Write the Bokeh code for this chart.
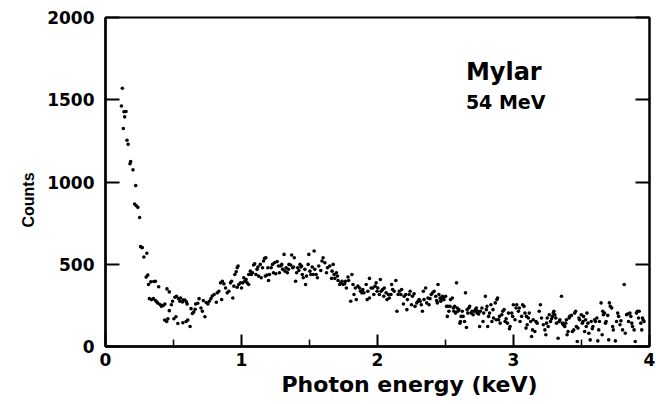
from bokeh.plotting import figure
from bokeh.models import LinearAxis, Label, FixedTicker, Range1d, Title
from bokeh.embed import file_html
from bokeh.resources import INLINE

# ---- data ----
energy_keV = [
    0.124, 0.117, 0.136, 0.151, 0.141, 0.131, 0.158, 0.166, 0.180, 0.185, 0.202, 0.222,
    0.214, 0.226, 0.238, 0.251,
    0.258, 0.270, 0.282, 0.304, 0.311, 0.299, 0.316, 0.333, 0.355, 0.367, 0.391, 0.452,
    0.469, 0.323, 0.338, 0.352, 0.367, 0.377, 0.386, 0.403, 0.411, 0.425, 0.437, 0.469,
    0.484, 0.493, 0.510, 0.522, 0.537, 0.547, 0.552, 0.566, 0.571, 0.583, 0.595, 0.600,
    0.435, 0.450, 0.459, 0.503, 0.518, 0.532, 0.569, 0.593, 0.605, 0.622, 0.629, 0.639,
    0.649, 0.659, 0.663, 0.678, 0.688, 0.702, 0.712, 0.719, 0.731, 0.741, 0.753, 0.763,
    0.775, 0.785, 0.799,
    0.815, 0.822, 0.834, 0.854, 0.846, 0.859, 0.871, 0.883, 0.895, 0.907, 0.919, 0.927,
    0.936, 0.944, 0.951, 0.961, 0.968, 0.975, 0.968, 0.980, 0.992, 1.000, 1.009, 1.017,
    1.024, 1.034, 1.041, 1.053, 1.053, 1.065, 1.072, 1.082, 1.089, 1.097, 1.106, 1.114,
    1.121, 1.126, 1.138, 1.145, 1.155, 1.162, 1.170, 1.179, 1.175, 1.187, 1.194, 1.199,
    1.206, 1.218, 1.228, 1.235, 1.243, 1.252, 1.262, 1.272, 1.279, 1.289, 1.296, 1.303,
    1.313, 1.320, 1.328, 1.337, 1.345, 1.349, 1.362, 1.369, 1.376, 1.383, 1.388, 1.398,
    1.405, 1.413, 1.422, 1.430, 1.437, 1.442, 1.447, 1.454, 1.466, 1.471, 1.478, 1.490,
    1.495, 1.503, 1.510, 1.520, 1.527, 1.534, 1.539, 1.549, 1.558, 1.568, 1.583, 1.592,
    1.600,
    1.613, 1.625, 1.632, 1.649, 1.662, 1.666, 1.674, 1.681, 1.686, 1.698, 1.705, 1.710,
    1.722, 1.730, 1.739, 1.747, 1.759, 1.764, 1.771, 1.783, 1.788, 1.803, 1.812, 1.820,
    1.827, 1.837, 1.844, 1.856, 1.868, 1.875, 1.885, 1.892, 1.900, 1.917, 1.924, 1.929,
    1.941, 1.941, 1.953, 1.965, 1.973, 1.982, 1.990, 1.997, 2.002, 2.014, 2.021, 2.026,
    2.038, 2.046, 2.050, 2.063, 2.070, 2.080, 2.087, 2.099, 2.104, 2.111, 2.123, 2.135,
    2.143, 2.152, 2.160, 2.172, 2.177, 2.191, 2.196, 2.208, 2.216, 2.220, 2.233, 2.240,
    2.250, 2.257, 2.269, 2.276, 2.289, 2.298, 2.306, 2.313, 2.322, 2.330, 2.337, 2.342,
    2.354, 2.362, 2.371, 2.379, 2.386, 2.395, 2.405,
    2.416, 2.428, 2.435, 2.440, 2.445, 2.452, 2.460, 2.465, 2.469, 2.477, 2.484, 2.489,
    2.501, 2.508, 2.513, 2.518, 2.525, 2.533, 2.537, 2.550, 2.557, 2.562, 2.567, 2.574,
    2.581, 2.586, 2.591, 2.598, 2.606, 2.610, 2.615, 2.623, 2.630, 2.640, 2.647, 2.654,
    2.659, 2.664, 2.671, 2.678, 2.688, 2.695, 2.703, 2.712, 2.720, 2.727, 2.732, 2.737,
    2.744, 2.751, 2.756, 2.768, 2.776, 2.781, 2.793, 2.800, 2.805, 2.810, 2.817, 2.824,
    2.834, 2.841, 2.849, 2.853, 2.866, 2.873, 2.878, 2.883, 2.890, 2.897, 2.902, 2.914,
    2.921, 2.931, 2.938, 2.946, 2.955, 2.963, 2.970, 2.975, 2.987, 2.994, 2.999, 3.011,
    3.019, 3.024, 3.036, 3.043, 3.048, 3.060, 3.067, 3.077, 3.084, 3.092, 3.096, 3.101,
    3.109, 3.116, 3.126, 3.133, 3.140, 3.145, 3.157, 3.165, 3.174, 3.189, 3.198, 3.206,
    3.219, 3.231, 3.238, 3.243, 3.248, 3.255, 3.263, 3.272, 3.280, 3.287, 3.292, 3.297,
    3.304, 3.311, 3.316, 3.328, 3.336, 3.341, 3.353, 3.360, 3.365, 3.377, 3.384, 3.389,
    3.394, 3.401, 3.409, 3.413, 3.426, 3.433, 3.443, 3.450, 3.457, 3.462, 3.469, 3.474,
    3.481, 3.486, 3.498, 3.506, 3.511, 3.515, 3.523, 3.530, 3.535, 3.540, 3.547, 3.554,
    3.564, 3.571, 3.579, 3.584, 3.596, 3.603, 3.613, 3.620, 3.627, 3.632, 3.644, 3.652,
    3.656, 3.661, 3.669, 3.676, 3.681, 3.693, 3.700, 3.705, 3.712, 3.722, 3.729, 3.734,
    3.749, 3.758, 3.766, 3.773, 3.783, 3.790, 3.802, 3.814, 3.822, 3.831, 3.839, 3.846,
    3.856, 3.863, 3.870, 3.875, 3.887, 3.895, 3.904, 3.911, 3.919, 3.924, 3.936, 3.943,
    3.948, 3.953, 3.960,
]
counts = [
    1570, 1462, 1427, 1429, 1396, 1325, 1254, 1229, 1111, 1125, 1074, 978,
    866, 856, 846, 784,
    607, 601, 544, 567, 434, 422, 377, 393, 395, 397, 363, 350,
    332, 291, 285, 291, 279, 271, 263, 254, 244, 250, 258, 218,
    254, 275, 299, 305, 291, 275, 295, 271, 283, 283, 271, 258,
    161, 152, 169, 169, 181, 140, 144, 152, 161, 122, 230, 201,
    210, 226, 258, 263, 291, 234, 214, 279, 181, 267, 258, 275,
    291, 307, 316,
    269, 326, 336, 285, 387, 397, 381, 356, 326, 336, 387, 397,
    295, 367, 438, 454, 479, 489, 360, 377, 387, 356, 387, 418,
    397, 407, 387, 377, 438, 458, 438, 448, 495, 503, 438, 469,
    483, 428, 499, 418, 479, 520, 536, 540, 428, 434, 479, 401,
    438, 479, 499, 448, 509, 442, 516, 489, 448, 489, 499, 469,
    560, 458, 479, 448, 469, 499, 495, 556, 479, 483, 540, 397,
    448, 479, 462, 499, 483, 489, 438, 418, 469, 377, 428, 499,
    560, 458, 438, 483, 438, 581, 469, 438, 418, 489, 462, 520,
    540,
    509, 448, 479, 489, 414, 458, 499, 438, 414, 448, 428, 401,
    377, 387, 397, 377, 381, 397, 356, 422, 401, 275, 438, 377,
    316, 356, 285, 367, 356, 336, 326, 346, 326, 377, 285, 336,
    414, 295, 356, 356, 316, 367, 387, 336, 356, 316, 407, 336,
    346, 305, 356, 326, 285, 316, 295, 316, 377, 346, 336, 401,
    214, 316, 336, 316, 346, 258, 305, 316, 224, 285, 316, 336,
    254, 305, 320, 244, 265, 275, 285, 275, 254, 214, 336, 285,
    356, 265, 295, 254, 291, 316, 326,
    336, 305, 279, 265, 377, 316, 295, 275, 285, 305, 295, 285,
    305, 244, 183, 244, 214, 244, 285, 295, 234, 214, 244, 203,
    387, 234, 214, 224, 142, 152, 183, 214, 183, 152, 326, 116,
    224, 203, 234, 244, 203, 214, 193, 214, 224, 234, 203, 214,
    197, 122, 214, 234, 152, 203, 305, 224, 244, 122, 183, 203,
    254, 152, 224, 173, 265, 163, 285, 295, 163, 183, 142, 193,
    214, 224, 152, 169, 142, 203, 108, 122, 203, 183, 254, 163,
    234, 254, 214, 234, 152, 183, 254, 244, 203, 112, 183, 132,
    173, 203, 152, 61, 101, 163, 91, 152, 142, 214, 254, 173,
    132, 101, 71, 142, 173, 122, 193, 152, 169, 183, 203, 214,
    193, 173, 142, 50, 152, 163, 305, 142, 132, 122, 142, 163,
    71, 91, 173, 183, 189, 91, 101, 203, 214, 122, 30, 112,
    173, 163, 193, 142, 152, 183, 91, 163, 122, 203, 142, 81,
    40, 152, 108, 122, 163, 152, 173, 34, 101, 152, 265, 71,
    214, 193, 203, 142, 152, 189, 40, 265, 244, 234, 122, 101,
    34, 152, 203, 183, 132, 156, 101, 377, 81, 193, 197, 152,
    203, 183, 142, 122, 101, 30, 203, 214, 173, 214, 142, 101,
    173, 163, 152,
]

x_ticks = [0, 1, 2, 3, 4]
x_minor_ticks = [0.5, 1.5, 2.5, 3.5]
y_ticks = [0, 500, 1000, 1500, 2000]
title_lines = ["Mylar", "54 MeV"]
x_title = "Photon energy (keV)"
y_title = "Counts"

FONT = "DejaVu Sans"

p = figure(width=656, height=404, output_backend="svg", toolbar_location=None,
           x_range=Range1d(0, 4), y_range=Range1d(0, 2000),
           min_border_left=105, min_border_right=7, min_border_top=17,
           min_border_bottom=58, background_fill_color="white",
           border_fill_color="white")
p.grid.visible = False
p.outline_line_color = "black"
p.outline_line_width = 2

p.scatter(energy_keV, counts, size=3.6, color="black", line_color=None)

# bottom axis
xa = p.xaxis[0]
xa.ticker = FixedTicker(ticks=x_ticks, minor_ticks=x_minor_ticks)
xa.major_tick_in = 12
xa.major_tick_out = 0
xa.minor_tick_in = 7
xa.minor_tick_out = 0
xa.axis_line_width = 2.5
xa.major_tick_line_width = 2
xa.minor_tick_line_width = 1.5
xa.major_label_text_font = FONT
xa.major_label_text_font_style = "bold"
xa.major_label_text_font_size = "17px"
xa.major_label_text_color = "black"
xa.major_label_standoff = 6

# left axis
ya = p.yaxis[0]
ya.ticker = FixedTicker(ticks=y_ticks)
ya.major_tick_in = 14
ya.major_tick_out = 0
ya.minor_tick_line_color = None
ya.axis_line_width = 2.5
ya.major_tick_line_width = 2
ya.major_label_text_font = FONT
ya.major_label_text_font_style = "bold"
ya.major_label_text_font_size = "17px"
ya.major_label_text_color = "black"
ya.major_label_standoff = 11

# right axis: ticks only
ra = LinearAxis(ticker=FixedTicker(ticks=y_ticks), major_tick_in=14, major_tick_out=0,
                minor_tick_line_color=None, major_label_text_color=None,
                major_label_text_font_size="1px", axis_line_width=2,
                major_tick_line_width=2)
p.add_layout(ra, "right")

# axis titles as Title objects (left aligned + offset)
p.add_layout(Title(text=x_title, text_font=FONT, text_font_style="bold",
                   text_font_size="22px", text_color="black", align="left",
                   offset=176, standoff=2), "below")
p.add_layout(Title(text=y_title, text_font="Liberation Sans", text_font_style="bold",
                   text_font_size="16px", text_color="black", align="left",
                   offset=119, standoff=16), "left")

# in-plot annotation
p.add_layout(Label(x=2.65, y=1585, text=title_lines[0], text_font=FONT,
                   text_font_style="bold", text_font_size="24px", text_color="black"))
p.add_layout(Label(x=2.65, y=1420, text=title_lines[1], text_font=FONT,
                   text_font_style="bold", text_font_size="19px", text_color="black"))

open("out.html", "w").write(file_html(p, INLINE))
